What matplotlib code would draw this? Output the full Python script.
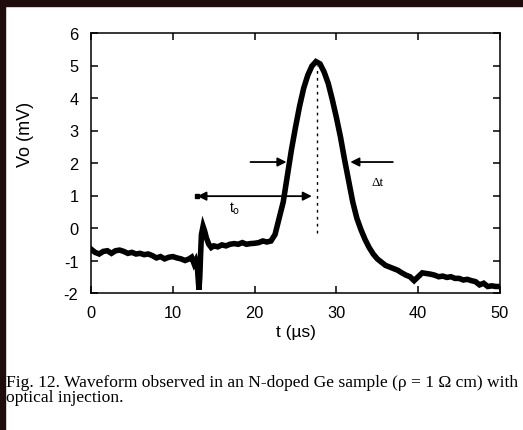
import matplotlib
matplotlib.use("Agg")
import matplotlib.pyplot as plt
from matplotlib.patches import Rectangle

# ---- data ----
t_us = [0, 0.5, 1, 1.5, 2, 2.5, 3, 3.5, 4, 4.5, 5, 5.5, 6, 6.5, 7, 7.5, 8, 8.5, 9, 9.5,
        10, 10.5, 11, 11.5, 12, 12.3, 12.6, 12.8, 13.0, 13.2, 13.3, 13.4, 13.5, 13.7, 13.9,
        14.1, 14.4, 14.7, 15, 15.5, 16, 16.5, 17, 17.5, 18, 18.5, 19, 19.5, 20, 20.5, 21,
        21.5, 22, 22.5, 23, 23.5, 24, 24.5, 25, 25.5, 26, 26.5, 27, 27.5, 28, 28.5, 29,
        29.5, 30, 30.5, 31, 31.5, 32, 32.5, 33, 33.5, 34, 34.5, 35, 35.5, 36, 36.5, 37,
        37.5, 38, 38.5, 39, 39.5, 40, 40.5, 41, 41.5, 42, 42.5, 43, 43.5, 44, 44.5, 45,
        45.5, 46, 46.5, 47, 47.5, 48, 48.5, 49, 49.5, 50]
vo_mV = [-0.65, -0.75, -0.8, -0.72, -0.7, -0.78, -0.7, -0.68, -0.72, -0.78, -0.75, -0.8,
         -0.78, -0.82, -0.8, -0.85, -0.92, -0.88, -0.95, -0.9, -0.88, -0.92, -0.95, -1.0,
         -0.95, -0.9, -1.1, -1.0, -1.2, -1.9, -1.5, -0.8, -0.2, 0.05, -0.1, -0.3, -0.5,
         -0.6, -0.55, -0.58, -0.52, -0.55, -0.5, -0.48, -0.5, -0.45, -0.5, -0.48, -0.47,
         -0.45, -0.4, -0.43, -0.4, -0.2, 0.3, 0.8, 1.6, 2.4, 3.1, 3.75, 4.3, 4.7, 4.98,
         5.12, 5.05, 4.8, 4.45, 3.95, 3.4, 2.8, 2.1, 1.45, 0.8, 0.3, -0.05, -0.35, -0.6,
         -0.8, -0.95, -1.05, -1.15, -1.2, -1.25, -1.3, -1.38, -1.45, -1.5, -1.62, -1.5,
         -1.38, -1.4, -1.42, -1.45, -1.5, -1.48, -1.52, -1.5, -1.55, -1.55, -1.6, -1.58,
         -1.62, -1.65, -1.75, -1.7, -1.8, -1.78, -1.8, -1.8]

x_ticks = [0, 10, 20, 30, 40, 50]
y_ticks = [-2, -1, 0, 1, 2, 3, 4, 5, 6]
x_label = "t (\u00b5s)"
y_label = "Vo (mV)"
caption = ("Fig. 12. Waveform observed in an N-doped Ge sample (\u03c1 = 1 \u03a9 cm) with\n"
           "optical injection.")

# annotation geometry (data units)
peak_t = 27.6
dash_range = (-0.15, 5.0)
t0_span = (13.0, 27.0, 0.98)
dt_left = (19.5, 23.9, 2.03)
dt_right = (36.9, 31.7, 2.03)

W, H, DPI = 523, 431, 100
plt.rcParams['font.family'] = ['Liberation Sans', 'DejaVu Sans']
plt.rcParams['axes.unicode_minus'] = False
fig = plt.figure(figsize=(W / DPI, H / DPI), dpi=DPI, facecolor="white")

# dark frame on top and left
frame_col = "#1e0d0c"
fig.patches.append(Rectangle((0, 1 - 7 / H), 1, 7 / H, transform=fig.transFigure,
                             color=frame_col, zorder=0))
fig.patches.append(Rectangle((0, 0), 5 / W, 1, transform=fig.transFigure,
                             color=frame_col, zorder=0))

ax = fig.add_axes([91 / W, 1 - 294 / H, 409 / W, 260 / H])
ax.plot(t_us, vo_mV, color="black", lw=4.0, solid_joinstyle="miter")
ax.set_xlim(0, 50)
ax.set_ylim(-2, 6)
ax.set_xticks(x_ticks)
ax.set_yticks(y_ticks)
ax.tick_params(direction="in", length=5, width=1.1, top=True, right=True,
               labelsize=11.8, pad=9)
for s in ax.spines.values():
    s.set_linewidth(1.1)

ax.set_xlabel(x_label, fontsize=12.5, va="center")
ax.xaxis.set_label_coords(0.5, (294 - 332) / 260)
ax.set_ylabel(y_label, fontsize=13, va="center")
ax.yaxis.set_label_coords((25 - 91) / 409, (294 - 134) / 260)

# dashed vertical line at the peak
ax.vlines(peak_t, *dash_range, colors="black", linestyles=(0, (2, 3)), lw=1.0)

aprops = dict(arrowstyle="-|>", color="black", lw=1.3, mutation_scale=13,
              shrinkA=0, shrinkB=0)
# t0 double arrow
ax.annotate("", xy=(t0_span[1], t0_span[2]), xytext=(t0_span[0], t0_span[2]),
            arrowprops=dict(arrowstyle="<|-|>", color="black", lw=1.3,
                            mutation_scale=13, shrinkA=0, shrinkB=0))
ax.plot([t0_span[0]], [t0_span[2]], marker="s", ms=3.5, color="black")
ax.text(17.6, 0.62, r"t$_{\rm o}$", fontsize=10, family="Liberation Sans",
        ha="center", va="center")
# delta t arrows
ax.annotate("", xy=(dt_left[1], dt_left[2]), xytext=(dt_left[0], dt_left[2]),
            arrowprops=aprops)
ax.annotate("", xy=(dt_right[1], dt_right[2]), xytext=(dt_right[0], dt_right[2]),
            arrowprops=aprops)
ax.text(35.0, 1.42, "\u0394t", fontsize=9.5, family="Liberation Serif",
        ha="center", va="center")

fig.text(6 / W, 1 - 375 / H, caption, fontsize=12.6, family="Liberation Serif",
         ha="left", va="top", linespacing=0.95)

fig.savefig("out.png", dpi=DPI, facecolor="white")
